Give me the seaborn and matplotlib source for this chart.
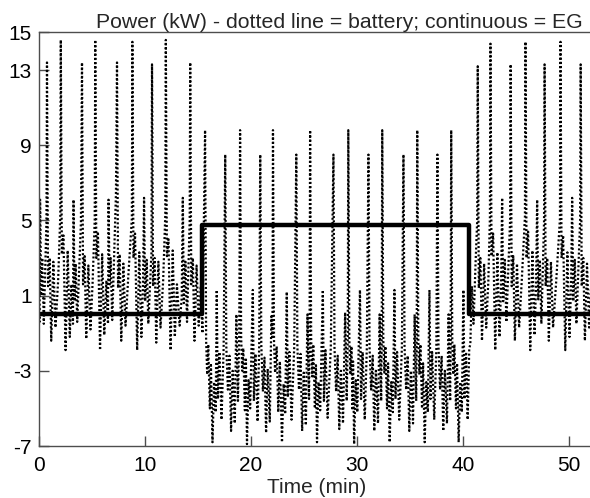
import numpy as np
import pandas as pd
import matplotlib
matplotlib.use('Agg')
import matplotlib.pyplot as plt
import seaborn as sns

# battery power (dotted): time in min, power in kW
batt_t = [
    0.00, 0.10, 0.15, 0.25, 0.35, 0.50, 0.75, 0.80, 0.90, 1.05, 1.20, 1.40, 1.60, 1.85, 2.05, 2.10, 2.20, 2.35, 2.55, 2.75, 2.95, 3.10, 3.25,
    3.30, 3.40, 3.50, 3.65, 4.00, 4.10, 4.20, 4.35, 4.50, 4.70, 4.90, 5.10, 5.30, 5.35, 5.45, 5.60, 5.80, 6.00, 6.20, 6.40, 6.55,
    6.60, 6.70, 6.80, 6.95, 7.30, 7.40, 7.50, 7.65, 7.80, 8.00, 8.20, 8.45, 8.80, 8.85, 8.95, 9.10, 9.30, 9.50, 9.70, 9.85,
    9.95, 10.05, 10.20, 10.35, 10.65, 10.70, 10.80, 10.95, 11.10, 11.30, 11.50, 11.75, 11.95, 12.00, 12.10, 12.25, 12.45, 12.65, 12.85, 13.05, 13.30, 13.50,
    13.60, 13.70, 13.85, 14.00, 14.25, 14.30, 14.40, 14.55, 14.70, 14.90, 15.10, 15.30, 15.45,
    15.70, 15.80, 15.90, 16.00, 16.15, 16.25, 16.40, 16.55, 16.70, 16.80, 16.90, 17.05, 17.25, 17.45, 17.60, 17.70, 17.85, 18.00, 18.15, 18.30, 18.50, 18.65, 18.80, 18.92,
    19.00, 19.10, 19.20, 19.30, 19.45, 19.55, 19.65, 19.80, 19.95, 20.20, 20.30, 20.45, 20.65, 20.80, 20.90, 21.00, 21.15, 21.30, 21.45, 21.60, 21.80, 21.95, 22.05,
    22.10, 22.20, 22.30, 22.45, 22.60, 22.75, 22.95, 23.10, 23.25, 23.40, 23.50, 23.65, 23.85, 24.10, 24.30, 24.40, 24.55, 24.70, 24.85, 25.00, 25.20, 25.35, 25.50, 25.55,
    25.60, 25.70, 25.80, 25.90, 26.05, 26.15, 26.25, 26.40, 26.55, 26.80, 26.90, 27.05, 27.25, 27.55, 27.80, 27.90, 28.05, 28.20, 28.35, 28.50, 28.70, 28.90, 29.05, 29.15,
    29.20, 29.30, 29.40, 29.50, 29.60, 29.65, 29.75, 29.90, 30.05, 30.30, 30.40, 30.55, 30.75, 30.95, 31.10, 31.20, 31.35, 31.50, 31.65, 31.80, 32.00, 32.15, 32.30, 32.35,
    32.40, 32.50, 32.60, 32.70, 32.85, 32.95, 33.10, 33.25, 33.40, 33.55, 33.65, 33.80, 34.00, 34.25, 34.40, 34.50, 34.65, 34.80, 34.95, 35.10, 35.30, 35.45, 35.60, 35.65,
    35.70, 35.80, 35.90, 36.00, 36.15, 36.25, 36.40, 36.55, 36.70, 36.85, 36.95, 37.10, 37.30, 37.50, 37.60, 37.70, 37.85, 38.00, 38.15, 38.30, 38.50, 38.65, 38.80, 38.85,
    38.90, 39.00, 39.10, 39.20, 39.35, 39.45, 39.60, 39.75, 39.90, 40.05, 40.15, 40.30, 40.45, 40.60,
    40.70, 40.85, 41.00, 41.20, 41.35, 41.40, 41.50, 41.65, 41.80, 42.00, 42.20, 42.40, 42.55, 42.60, 42.70, 42.85, 43.05, 43.25, 43.45, 43.60,
    43.70, 43.80, 43.95, 44.10, 44.45, 44.50, 44.60, 44.75, 44.90, 45.10, 45.30, 45.55, 45.85, 45.90, 46.00, 46.15, 46.35, 46.55, 46.75, 46.90,
    47.00, 47.10, 47.25, 47.40, 47.65, 47.70, 47.80, 47.95, 48.10, 48.30, 48.50, 48.80, 49.15, 49.20, 49.30, 49.45, 49.65, 49.85, 50.05, 50.20,
    50.30, 50.40, 50.55, 50.70, 51.05, 51.10, 51.20, 51.35, 51.50, 51.70, 51.90, 52.10, 52.30, 52.50,
]
batt_kw = [
    1.2, -0.4, 6.1, 1.0, 3.0, -0.5, 5.0, 13.4, 1.5, 3.0, -1.4, 2.8, -0.7, 1.8, 5.2, 14.6, 3.2, 4.2, -1.9, 3.4, -1.2, 1.6, -0.5,
    6.1, 0.7, 2.7, -0.4, 4.9, 13.4, 1.6, 3.1, -1.3, 2.6, -0.8, 1.7, 5.0, 14.6, 3.0, 4.4, -1.9, 3.2, -1.1, 1.8, -0.5,
    6.1, 1.6, 3.0, -0.3, 6.4, 13.4, 1.4, 3.2, -1.4, 2.7, -0.6, 1.9, 5.1, 14.5, 3.0, 4.3, -1.9, 3.3, -1.2, 1.5,
    6.2, 0.7, 2.9, -0.5, 3.3, 13.3, 1.5, 3.0, -1.5, 2.8, -0.7, 1.8, 5.3, 14.6, 3.1, 4.0, -1.9, 3.4, -1.2, 1.6, -0.6, 0.9,
    6.2, 0.6, 2.8, -0.4, 5.0, 13.4, 1.6, 3.0, -1.4, 2.6, -0.6, 1.5, -1.0,
    9.8, -1.4, -3.2, -1.6, -5.0, -2.6, -6.8, -3.6, -5.2, 1.3, -4.5, -2.0, -5.6, -1.8, 8.5, -1.7, -4.0, -2.2, -6.2, -3.0, -5.8, 0.0, -4.6, -1.0,
    9.8, -1.2, -3.0, -1.8, -5.1, -2.4, -6.9, -3.5, -5.0, 1.3, -4.6, -2.1, -5.7, -1.7, 8.5, -1.6, -4.1, -2.3, -6.3, -2.9, -5.7, -0.1, -1.2,
    9.8, -1.5, -3.1, -1.7, -5.2, -2.5, -6.8, -3.7, -5.3, 1.2, -4.4, -2.0, -5.6, -1.8, 8.5, -1.7, -4.0, -2.1, -6.2, -3.1, -5.9, 0.0, -4.5, -1.0,
    9.8, -1.3, -3.3, -1.6, -5.0, -2.7, -6.8, -3.6, -5.1, 1.3, -4.6, -1.9, -5.5, -1.8, 8.5, -1.8, -4.1, -2.2, -6.1, -3.0, -5.8, 0.1, -4.6, -1.1,
    9.8, -1.4, -3.2, -1.7, -5.1, -2.5, -6.9, -3.5, -5.2, 1.3, -4.5, -2.0, -5.6, -1.7, 8.5, -1.7, -4.0, -2.2, -6.2, -3.0, -5.8, 0.0, -4.6, -1.0,
    9.8, -1.4, -3.1, -1.7, -5.0, -2.6, -6.8, -3.6, -5.2, 1.3, -4.5, -2.0, -5.6, -1.8, 8.5, -1.7, -4.0, -2.2, -6.2, -3.0, -5.8, 0.0, -4.6, -1.0,
    9.8, -1.4, -3.2, -1.6, -5.0, -2.6, -6.8, -3.6, -5.2, 1.3, -4.5, -2.0, -5.6, -1.8, 8.5, -1.7, -4.0, -2.2, -6.2, -3.0, -5.8, 0.0, -4.6, -1.0,
    9.8, -1.4, -3.2, -1.6, -5.0, -2.6, -6.8, -3.6, -5.2, 1.3, -4.5, -2.0, -5.6, -1.8,
    -1.6, 1.5, -0.5, 2.8, 5.0, 13.2, 1.4, 3.0, -1.4, 2.7, -0.7, 1.8, 5.2, 14.4, 3.1, 4.3, -1.9, 3.3, -1.2, 1.5,
    6.2, 0.7, 2.9, -0.4, 5.0, 13.3, 1.5, 3.1, -1.4, 2.7, -0.7, 1.8, 5.2, 14.5, 3.0, 4.4, -1.9, 3.4, -1.1, 1.6,
    6.1, 0.8, 2.9, -0.5, 4.9, 13.3, 1.5, 3.0, -1.4, 2.8, -0.7, 1.8, 5.1, 14.5, 3.0, 4.2, -1.9, 3.3, -1.2, 1.6,
    6.2, 0.7, 2.9, -0.5, 5.0, 13.3, 1.5, 3.0, -1.4, 2.7, -0.7, 1.8, -0.5, 1.0,
]

# EG power (continuous), a step signal
eg_t = [0.0, 15.4, 40.6, 52.5]
eg_kw = [0.0, 4.75, 0.0, 0.0]

x_ticks = [0, 10, 20, 30, 40, 50]
y_ticks = [-7, -3, 1, 5, 9, 13, 15]

batt = pd.DataFrame({'t': batt_t, 'kw': batt_kw})
eg = pd.DataFrame({'t': eg_t, 'kw': eg_kw})

sns.set_theme(style='white')
plt.rcParams['font.family'] = ['Liberation Sans', 'DejaVu Sans']
plt.rcParams['axes.unicode_minus'] = False

fig = plt.figure(figsize=(5.9, 4.98), dpi=100)
ax = fig.add_axes([38.5 / 590, 52 / 498, 557 / 590, 413.6 / 498])

sns.lineplot(data=batt, x='t', y='kw', ax=ax, color='black', lw=1.6,
             linestyle=(0, (0.9, 1.0)), estimator=None, sort=False)
sns.lineplot(data=eg, x='t', y='kw', ax=ax, color='black', lw=3.2,
             drawstyle='steps-post', estimator=None, sort=False)

ax.set_xlim(0, 52.5)
ax.set_ylim(-7, 15)
ax.set_xticks(x_ticks)
ax.set_yticks(y_ticks)
ax.tick_params(bottom=True, left=True, top=False, right=False,
               direction='in', length=7, width=1, color='0.3',
               labelsize=15, labelcolor='black')
ax.tick_params(axis='x', pad=7)
ax.tick_params(axis='y', pad=5)
ax.set_xlabel('Time (min)', fontsize=15, labelpad=2)
ax.set_ylabel('')
ax.set_title('Power (kW) - dotted line = battery; continuous = EG',
             fontsize=15.3, x=0.541, pad=3)
for side in ['left', 'bottom', 'top']:
    ax.spines[side].set_color('0.3')
    ax.spines[side].set_linewidth(1)
ax.spines['right'].set_visible(False)

plt.savefig('out.png', dpi=100)
